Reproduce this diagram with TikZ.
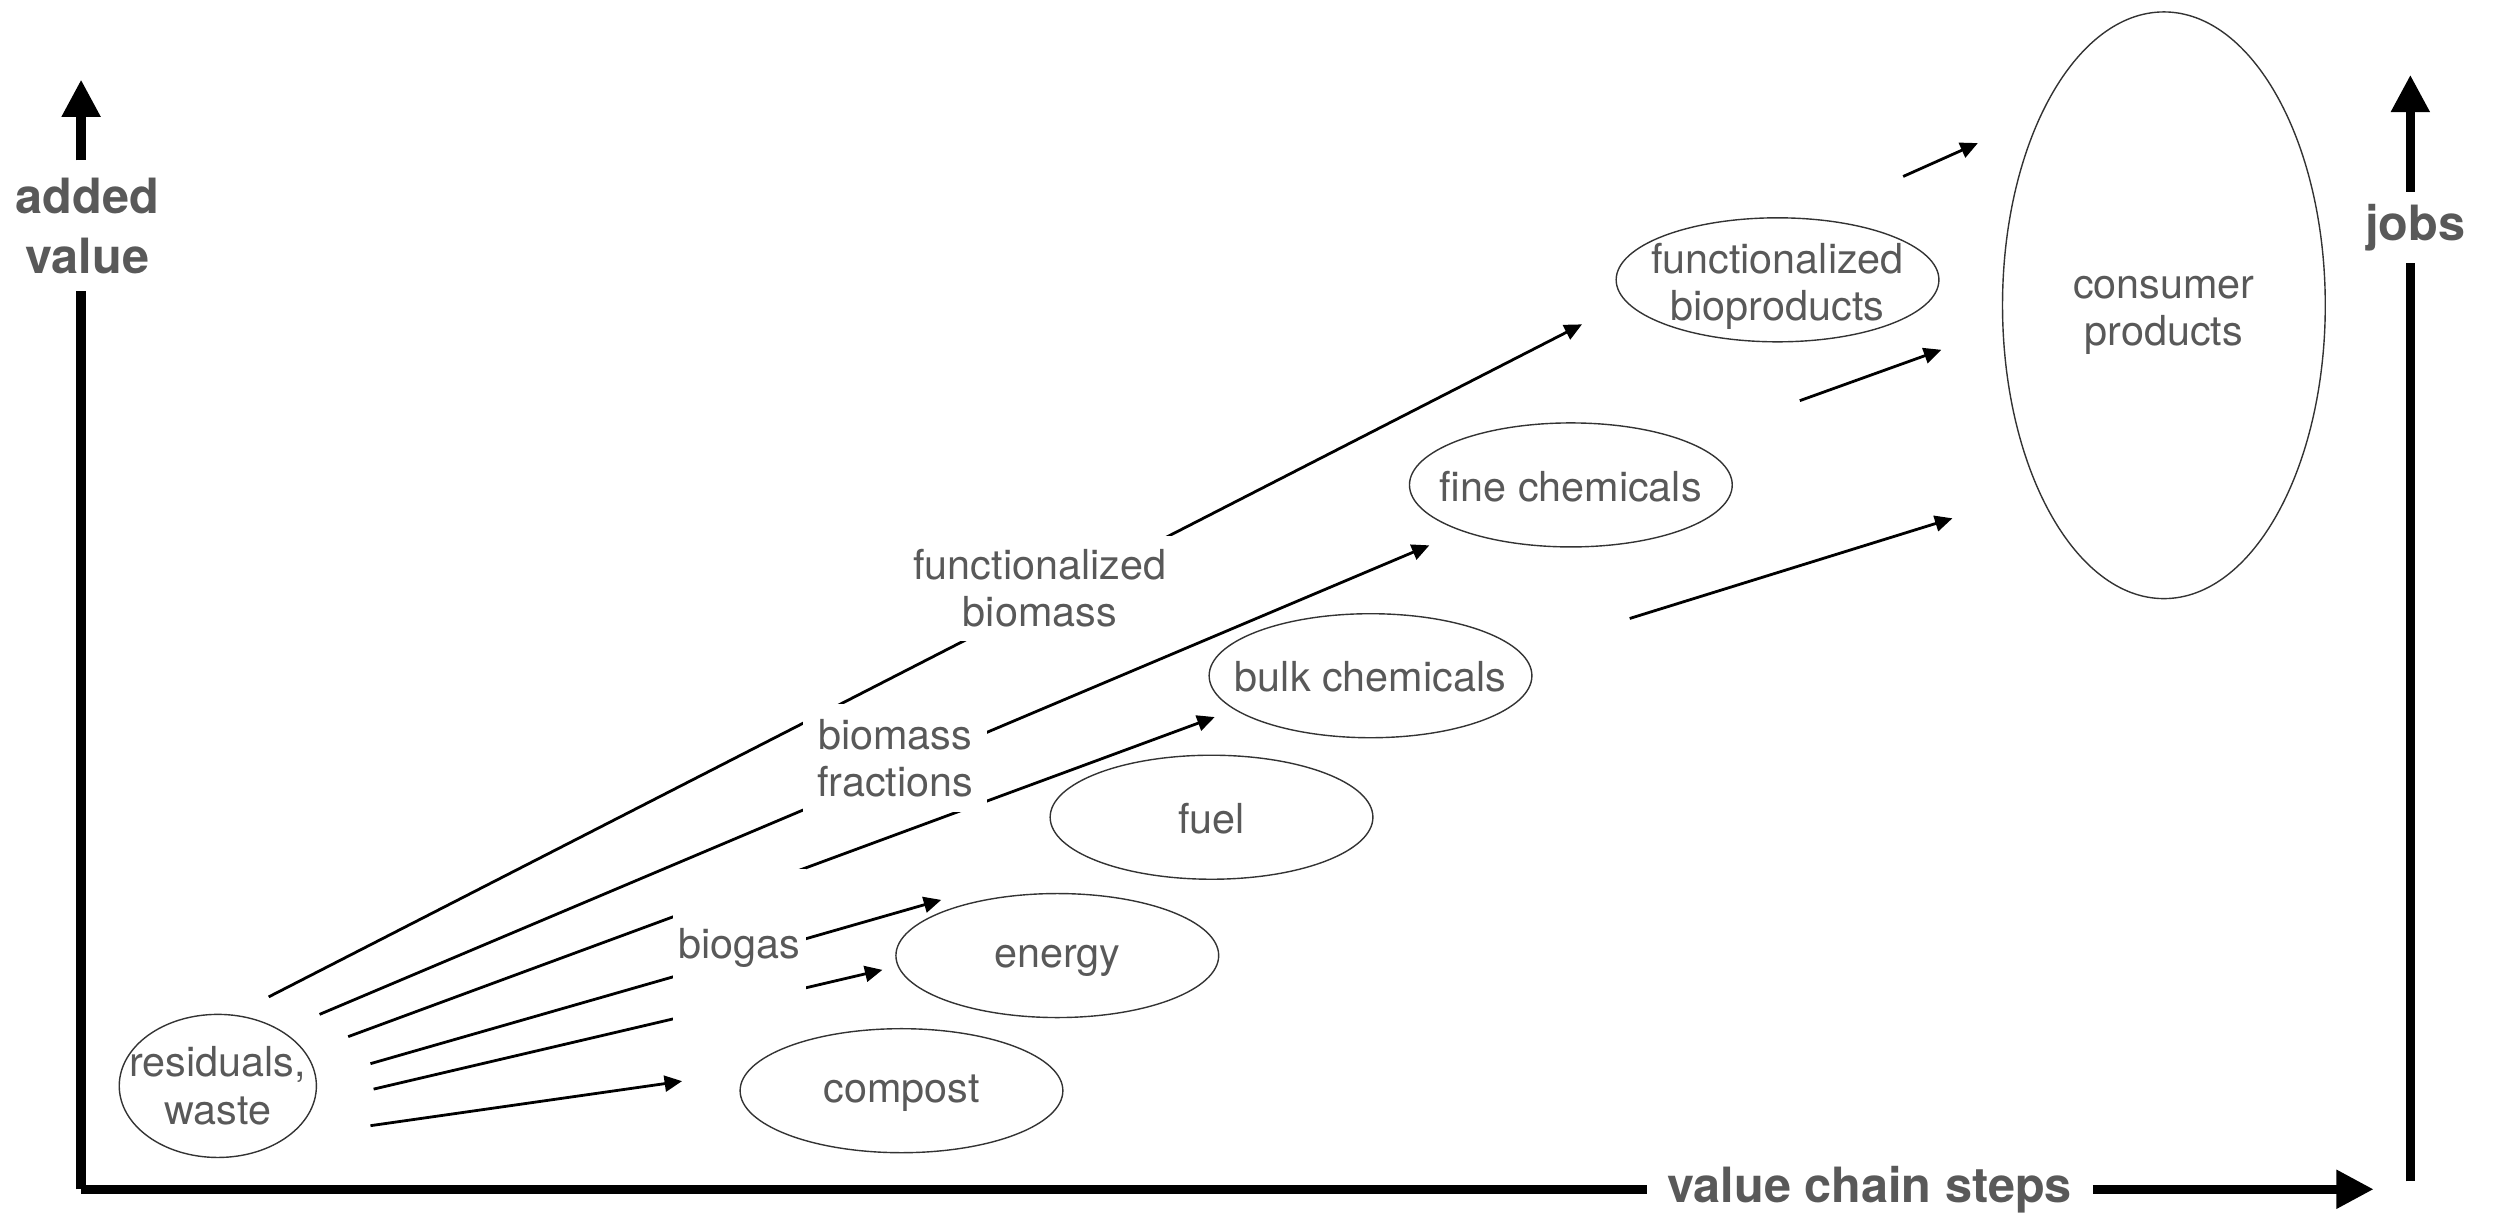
\documentclass[tikz,border=0pt]{standalone}
\usepackage{fontspec}
\setmainfont{TeX Gyre Heros}
\usepackage{tikz}
\usetikzlibrary{arrows.meta,shapes.geometric}
\definecolor{txtgray}{HTML}{595959}
\tikzset{%
	blob/.style    = {draw=black!80, line width=0.5pt, ellipse, minimum width=40.6mm, minimum height=15.6mm, inner sep=-5mm, align=center, text=txtgray, font=\fontsize{14.8}{17}\selectfont, execute at begin node={\rule{0pt}{11.8pt}}},
	tag/.style     = {fill=white, inner sep=0pt, align=center, text=txtgray, font=\fontsize{14.8}{17}\selectfont},
	axlabel/.style = {inner sep=0pt, align=center, text=txtgray, font=\fontsize{17.4}{21.5}\selectfont\bfseries},
	axis/.style    = {line width=3.3pt},
	axtip/.style   = {-{Triangle[length=4.7mm,width=4.6mm]}},
	flow/.style    = {line width=1pt,-{Triangle[length=2.2mm,width=2mm]}},
}

\begin{document}
\begin{tikzpicture}[x=0.2mm,y=-0.2mm]
		\useasboundingbox (0,0) rectangle (1568,766);
		
		\node[blob, minimum width=24.8mm, minimum height=18mm] (res) at (137,683) {residuals,\\waste};
		\node[blob] (compost) at (567,686) {compost};
		\node[blob] (energy) at (665,601) {energy};
		\node[blob] (fuel) at (762,514) {fuel};
		\node[blob] (bulk) at (862,425) {bulk chemicals};
		\node[blob] (fine) at (988,305) {fine chemicals};
		\node[blob] (fbio) at (1118,176) {\rule{0pt}{5.4mm}functionalized\\bioproducts};
		\node[blob, minimum height=73.8mm] (cons) at (1361,192) {\rule{0pt}{5.4mm}consumer\\products};
		
		\coordinate (a0) at (169,627); \coordinate (a1) at (995,204);
		\coordinate (b0) at (201,638); \coordinate (b1) at (899,343);
		\coordinate (c0) at (219,652); \coordinate (c1) at (764,451);
		\coordinate (d0) at (233,669); \coordinate (d1) at (592,566);
		\coordinate (e0) at (235,685); \coordinate (e1) at (555,610);
		\coordinate (f0) at (233,708); \coordinate (f1) at (429,680);
		\coordinate (g0) at (1197,111); \coordinate (g1) at (1244,90);
		\coordinate (h0) at (1132,252); \coordinate (h1) at (1221,220);
		\coordinate (i0) at (1025,389); \coordinate (i1) at (1228,326);
		
		\foreach \s/\t in {a0/a1,b0/b1,c0/c1,d0/d1,e0/e1,f0/f1,g0/g1,h0/h1,i0/i1} \draw[flow] (\s) -- (\t);
		
		\node[tag, minimum width=33.6mm, minimum height=13.2mm] (fbm) at (654,370) {functionalized\\biomass};
		\node[tag, minimum width=23.2mm, minimum height=13.6mm] (bmf) at (563,477) {biomass\\fractions};
		\node[tag, minimum width=16.8mm, minimum height=19.8mm] (gas) at (465,596) {biogas};
		
		\coordinate (origin) at (51,748);
		\coordinate (ytip) at (51,50);
		\coordinate (xtip) at (1493,748);
		\coordinate (jfoot) at (1516,743);
		\coordinate (jtip) at (1516,47);
		\node[axlabel, minimum height=16.3mm] (ylab) at (55,142) {added\\value};
		\node[axlabel, minimum width=56mm] (xlab) at (1176,748) {value chain steps};
		\node[axlabel, minimum height=8.8mm] (jlab) at (1519,143) {jobs};
		
		\draw[axis] (origin) -- (origin |- ylab.south);
		\draw[axis,axtip] (origin |- ylab.north) -- (ytip);
		\draw[axis] (origin) -- (xlab.west);
		\draw[axis,axtip] (xlab.east) -- (xtip);
		\draw[axis] (jfoot) -- (jfoot |- jlab.south);
		\draw[axis,axtip] (jfoot |- jlab.north) -- (jtip);
	\end{tikzpicture}
\end{document}
